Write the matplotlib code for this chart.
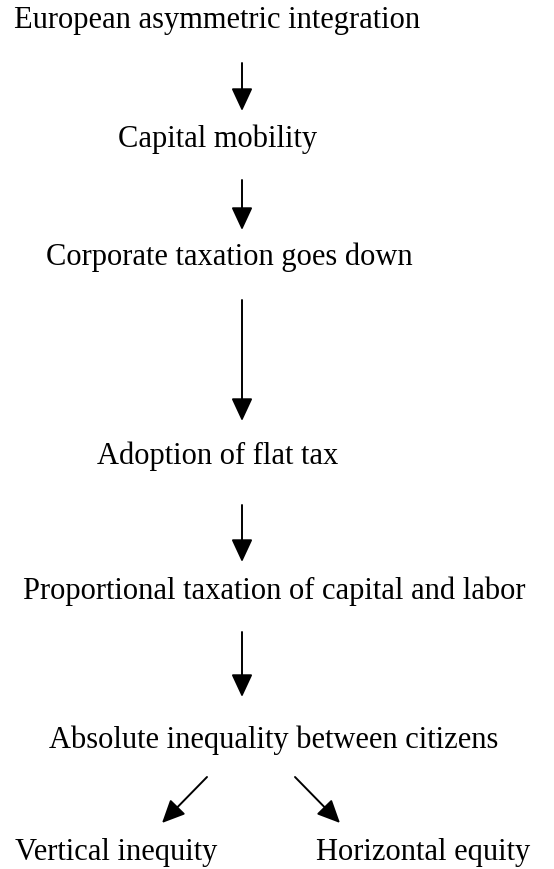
import matplotlib.pyplot as plt
from matplotlib.patches import FancyArrowPatch

# ==================================================================
# flowchart content
labels = ["European asymmetric integration",
          "Capital mobility",
          "Corporate taxation goes down",
          "Adoption of flat tax",
          "Proportional taxation of capital and labor",
          "Absolute inequality between citizens",
          "Vertical inequity",
          "Horizontal equity"]

# links between boxes (from index, to index)
links = [(0, 1), (1, 2), (2, 3), (3, 4), (4, 5), (5, 6), (5, 7)]

# ==================================================================
# layout in pixel coordinates (figure is 554 x 869), y = text baseline
text_x = [14, 118, 46, 97, 23, 49, 15, 316]
text_y = [28, 147, 265, 464, 599, 748, 860, 860]

arrow_start = [(242, 63), (242, 180), (242, 300), (242, 505), (242, 632),
               (207, 777), (295, 777)]
arrow_end = [(242, 111), (242, 230), (242, 421), (242, 562), (242, 697),
             (162, 823), (340, 823)]

fig = plt.figure(figsize=(5.54, 8.69), dpi=100)
ax = fig.add_axes([0, 0, 1, 1])
ax.set_xlim(0, 554)
ax.set_ylim(869, 0)
ax.axis('off')

for i in range(len(labels)):
	ax.text(text_x[i], text_y[i], labels[i], ha='left', va='baseline',
	        fontsize=22, family='Liberation Serif', color='black')

for k in range(len(links)):
	arr = FancyArrowPatch(arrow_start[k], arrow_end[k],
	                      arrowstyle='-|>,head_length=14,head_width=6.5',
	                      mutation_scale=1, lw=1.4, color='black',
	                      shrinkA=0, shrinkB=0)
	ax.add_patch(arr)

fig.savefig('out.png', dpi=100)
